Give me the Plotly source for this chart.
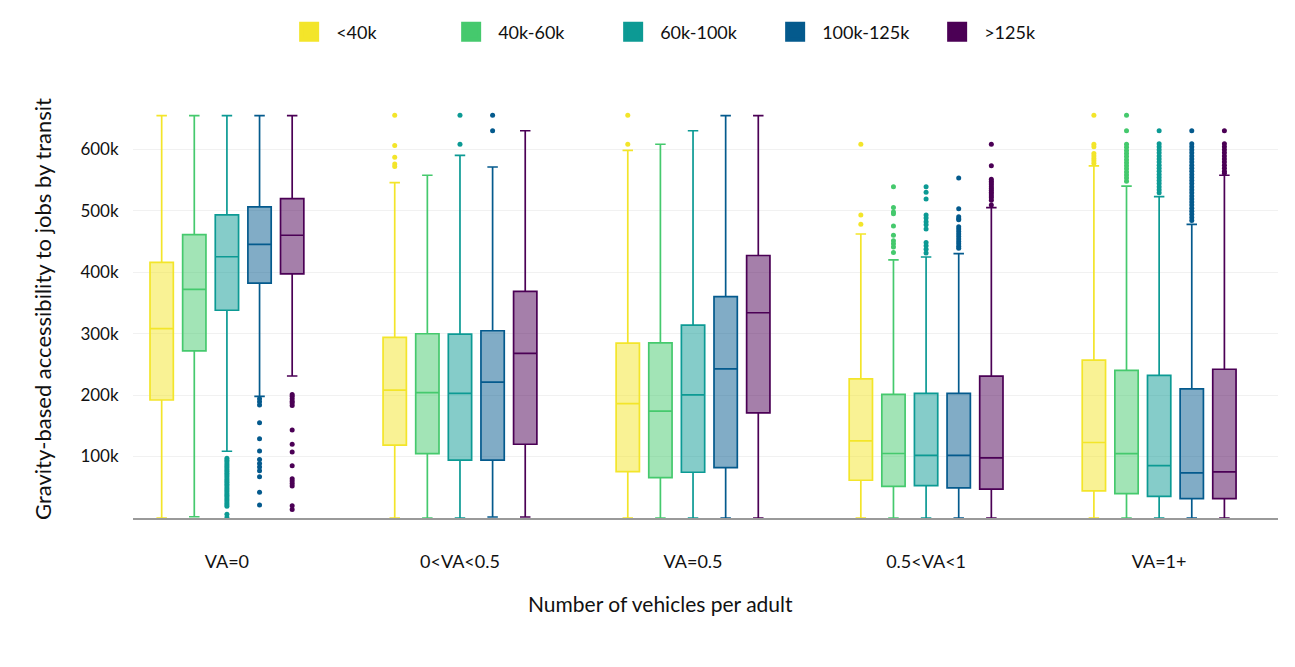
import plotly.graph_objects as go

categories = ["VA=0", "0<VA<0.5", "VA=0.5", "0.5<VA<1", "VA=1+"]
groups = ["<40k", "40k-60k", "60k-100k", "100k-125k", ">125k"]
colors = ["#f3e52a", "#45c96d", "#0c9a94", "#045a8d", "#4b0055"]

# stats per group, per category (values in thousands)
lower = {
    "<40k":      [0, 0, 0, 0, 0],
    "40k-60k":   [2, 0, 0, 0, 0],
    "60k-100k":  [108.6, 0, 0, 0, 0],
    "100k-125k": [198, 1.6, 0, 0, 0],
    ">125k":     [231, 1.6, 0, 0, 0],
}
q1 = {
    "<40k":      [192, 118.4, 75.5, 61.4, 44],
    "40k-60k":   [272, 104.8, 65.8, 51.6, 39.7],
    "60k-100k":  [338, 94, 74.4, 52.7, 35.3],
    "100k-125k": [382, 94, 82, 48.9, 31.6],
    ">125k":     [397, 120, 171, 47, 31.6],
}
median = {
    "<40k":      [308, 208, 186, 125.4, 122.8],
    "40k-60k":   [372, 204, 173.8, 104.9, 104.8],
    "60k-100k":  [425, 202.6, 200.4, 102, 85.3],
    "100k-125k": [445, 221, 242.7, 102, 73.3],
    ">125k":     [460, 267.7, 333.9, 97.7, 75],
}
q3 = {
    "<40k":      [416, 293.8, 284.5, 226.4, 256.8],
    "40k-60k":   [461, 299.7, 285, 201, 240],
    "60k-100k":  [493, 299, 313.8, 202.6, 231.9],
    "100k-125k": [506, 304.6, 360, 202.6, 210],
    ">125k":     [519.6, 368.7, 427, 230.8, 242],
}
upper = {
    "<40k":      [654.7, 545.6, 598, 462, 572.8],
    "40k-60k":   [654.7, 557.6, 608, 420, 540],
    "60k-100k":  [654.7, 590, 630, 424.6, 522.8],
    "100k-125k": [654.7, 571, 654.7, 430, 477.8],
    ">125k":     [654.7, 630, 654.7, 505, 557.6],
}

# outliers per group, per category (thousands)
outliers = {
    "<40k": [
        [],
        [655, 606, 587, 576, 572],
        [655, 608],
        [608, 493, 478],
        [655, 608, 604, 593, 589, 585, 581, 577],
    ],
    "40k-60k": [
        [],
        [],
        [],
        [539, 505, 498, 495, 475, 460, 451, 446, 441, 432],
        [655, 630, 608, 603, 598, 593, 588, 583, 578, 573, 568, 563, 558, 553, 548],
    ],
    "60k-100k": [
        [97, 94, 91, 88, 85, 82, 79, 76, 73, 70, 67, 64, 61, 58, 55, 52, 49, 46,
         43, 40, 37, 34, 31, 28, 25, 22, 19, 6, 1],
        [655, 608],
        [],
        [539, 530, 519, 493, 488, 482, 477, 470, 448, 443, 437, 431],
        [630, 609, 604, 599, 594, 589, 584, 579, 574, 569, 564, 559, 554, 549,
         544, 539, 534, 529],
    ],
    "100k-125k": [
        [194, 189, 184, 155, 129, 109, 95, 88.5, 83, 77, 67, 42, 21],
        [655, 630],
        [],
        [553, 503, 490, 487, 485, 474, 470, 466, 462, 458, 454, 450, 446, 442, 439],
        [630, 609, 604, 599, 594, 589, 584, 579, 574, 569, 564, 559, 554, 549,
         544, 539, 534, 529, 524, 519, 514, 509, 504, 499, 494, 489, 484],
    ],
    ">125k": [
        [201, 198, 194, 190, 187, 183, 143, 120, 107.5, 85, 64, 60, 56, 52, 20, 14],
        [],
        [],
        [608, 573, 551, 548, 545, 542, 539, 536, 533, 530, 527, 524, 521, 517, 509],
        [630, 609, 604, 599, 594, 589, 584, 579, 574, 569, 564, 561],
    ],
}

y_tick_vals = [100, 200, 300, 400, 500, 600]
y_tick_text = ["100k", "200k", "300k", "400k", "500k", "600k"]
x_title = "Number of vehicles per adult"
y_title = "Gravity-based accessibility to jobs by transit"

FONT = "Lato"
K = 1000
n_groups = len(groups)
step = 0.14
box_w = 0.1


def rgba(hex_color, a):
    h = hex_color.lstrip("#")
    r, g, b = int(h[0:2], 16), int(h[2:4], 16), int(h[4:6], 16)
    return f"rgba({r},{g},{b},{a})"


fig = go.Figure()

for gi, (grp, col) in enumerate(zip(groups, colors)):
    off = (gi - (n_groups - 1) / 2) * step
    xs = [ci + off for ci in range(len(categories))]
    fig.add_trace(go.Box(
        x=xs,
        q1=[v * K for v in q1[grp]],
        median=[v * K for v in median[grp]],
        q3=[v * K for v in q3[grp]],
        lowerfence=[v * K for v in lower[grp]],
        upperfence=[v * K for v in upper[grp]],
        width=box_w,
        whiskerwidth=0.45,
        fillcolor=rgba(col, 0.5),
        line=dict(color=col, width=1.7),
        name=grp,
        legendgroup=grp,
        showlegend=False,
        boxpoints=False,
    ))
    ox, oy = [], []
    for ci, vals in enumerate(outliers[grp]):
        for v in vals:
            ox.append(ci + off)
            oy.append(v * K)
    fig.add_trace(go.Scatter(
        x=ox, y=oy, mode="markers",
        marker=dict(color=col, size=5),
        name=grp, legendgroup=grp, showlegend=False,
        hoverinfo="y",
    ))
    # legend swatch
    fig.add_trace(go.Scatter(
        x=[None], y=[None], mode="markers",
        marker=dict(color=col, size=16, symbol="square",
                    line=dict(color=col, width=4)),
        name=grp, legendgroup=grp, showlegend=True,
    ))

fig.update_layout(
    width=1279, height=651,
    margin=dict(l=125, r=9, t=92, b=141, autoexpand=False),
    paper_bgcolor="white",
    plot_bgcolor="white",
    boxmode="overlay",
    font=dict(family=FONT, size=17, color="#111"),
    legend=dict(
        orientation="h",
        xref="container", yref="container",
        x=0.531, xanchor="center",
        y=0.963, yanchor="middle",
        font=dict(family=FONT, size=18, color="#111"),
        entrywidth=103,
        itemwidth=44,
        tracegroupgap=0,
    ),
    xaxis=dict(
        range=[-0.403, 4.51],
        automargin=False,
        tickvals=list(range(len(categories))),
        ticktext=categories,
        showgrid=False,
        zeroline=False,
        showline=True,
        linecolor="#9a9a9a",
        linewidth=2,
        ticks="outside",
        ticklen=26,
        tickcolor="rgba(0,0,0,0)",
        tickfont=dict(family=FONT, size=18, color="#111"),
    ),
    yaxis=dict(
        range=[0, 680 * K],
        automargin=False,
        tickvals=[v * K for v in y_tick_vals],
        ticktext=y_tick_text,
        showgrid=True,
        gridcolor="#f1f1f1",
        gridwidth=1,
        zeroline=False,
        showline=False,
        ticks="outside",
        ticklen=10,
        tickcolor="rgba(0,0,0,0)",
        tickfont=dict(family=FONT, size=17, color="#111"),
        title=dict(text=y_title,
                   font=dict(family=FONT, size=22, color="#111"),
                   standoff=22),
    ),
    annotations=[dict(
        text=x_title, xref="paper", yref="paper",
        x=0.461, y=-0.205, xanchor="center", yanchor="middle",
        showarrow=False,
        font=dict(family=FONT, size=21, color="#111"),
    )],
)

fig.write_html("out.html")
